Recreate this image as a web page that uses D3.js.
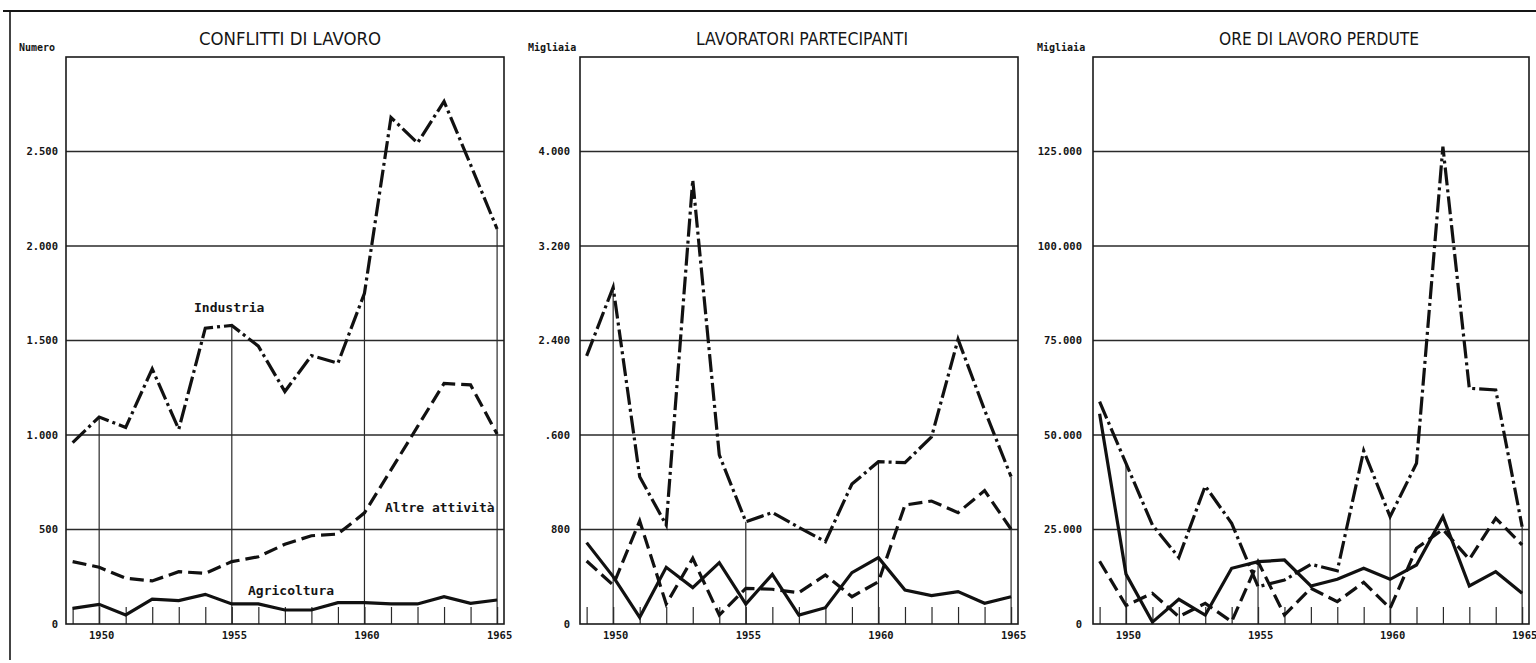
<!DOCTYPE html>
<html>
<head>
<meta charset="utf-8">
<script src="https://cdn.jsdelivr.net/npm/d3@7"></script>
<style>
  html, body { margin: 0; padding: 0; background: #fff; }
  svg { display: block; }
</style>
</head>
<body>
<svg id="chart" width="1536" height="663"></svg>
<script>
// ---------------- DATA ----------------
const years = [1949,1950,1951,1952,1953,1954,1955,1956,1957,1958,1959,1960,1961,1962,1963,1964,1965];
const yearLabels = [1950, 1955, 1960, 1965];

const panelTitles = ["CONFLITTI  DI  LAVORO", "LAVORATORI  PARTECIPANTI", "ORE DI  LAVORO PERDUTE"];
const unitLabels = ["Numero", "Migliaia", "Migliaia"];

// Conflitti di lavoro (numero)
const conflittiIndustria    = [960,1095,1040,1350,1030,1565,1580,1470,1230,1420,1380,1750,2680,2545,2765,2430,2090];
const conflittiAltre        = [330,300,242,228,277,268,330,356,422,467,476,588,815,1044,1273,1265,1005];
const conflittiAgricoltura  = [83,104,48,131,124,157,106,106,74,74,113,113,106,106,145,109,127];

// Lavoratori partecipanti (migliaia)
const lavoratoriIndustria   = [2270,2850,1247,838,3760,1431,866,943,818,697,1185,1374,1366,1583,2410,1812,1247];
const lavoratoriAltre       = [533,330,872,169,556,76,302,294,265,415,231,358,1007,1041,943,1129,802];
const lavoratoriAgricoltura = [689,401,57,480,308,519,169,420,76,138,435,562,288,240,274,175,231];

// Ore di lavoro perdute (migliaia)
const oreIndustria   = [58800,42500,26190,17600,36500,26640,9870,11640,15790,14100,45850,28390,42510,126300,62350,61900,25740];
const oreAltre       = [16600,4900,8120,1940,5470,620,16490,2380,9440,5910,11020,4150,20020,25050,17110,27960,20900];
const oreAgricoltura = [55600,13200,500,6530,2380,14730,16490,16930,10050,11820,14730,11820,15610,28390,10050,13840,8120];

// Y ticks
const conflittiTicks = [0,500,1000,1500,2000,2500];
const conflittiTickLabels = ["0","500","1.000","1.500","2.000","2.500"];
const lavoratoriTicks = [0,800,1600,2400,3200,4000];
const lavoratoriTickLabels = ["0","800",".600","2.400","3.200","4.000"];
const oreTicks = [0,25000,50000,75000,100000,125000];
const oreTickLabels = ["0","25.000","50.000","75.000","100.000","125.000"];

const yMax = [3000, 4800, 150000];

// Series labels (only in first panel)
const seriesNames = ["Industria", "Altre attività", "Agricoltura"];
const seriesDash = ["18,4,3,4", "14,6", null];

// ---------------- LAYOUT ----------------
const svg = d3.select("#chart");
const W = 1536, H = 663;
const plotTop = 57, plotBottom = 624;
const frames = [
  {left: 66, right: 504, labelGap: 8},
  {left: 580, right: 1018, labelGap: 10},
  {left: 1093, right: 1529, labelGap: 11}
];
const ink = "#151515";

// outer border (top + left)
svg.append("line").attr("x1", 3).attr("x2", W).attr("y1", 11).attr("y2", 11)
  .attr("stroke", ink).attr("stroke-width", 2);
svg.append("line").attr("x1", 10).attr("x2", 10).attr("y1", 11).attr("y2", 660)
  .attr("stroke", ink).attr("stroke-width", 1.6);

const panels = [
  {series: [conflittiIndustria, conflittiAltre, conflittiAgricoltura], ticks: conflittiTicks, labels: conflittiTickLabels},
  {series: [lavoratoriIndustria, lavoratoriAltre, lavoratoriAgricoltura], ticks: lavoratoriTicks, labels: lavoratoriTickLabels},
  {series: [oreIndustria, oreAltre, oreAgricoltura], ticks: oreTicks, labels: oreTickLabels}
];

panels.forEach((p, i) => {
  const f = frames[i];
  const x = d3.scaleLinear().domain([1948.75, 1965.26]).range([f.left, f.right]);
  const y = d3.scaleLinear().domain([0, yMax[i]]).range([plotBottom, plotTop]);
  const g = svg.append("g");

  // title
  g.append("text")
    .attr("x", (f.left + f.right) / 2 + (i === 0 ? 5 : i === 1 ? 3 : 8))
    .attr("y", 45)
    .attr("text-anchor", "middle")
    .attr("font-family", "'DejaVu Sans Condensed', 'Liberation Sans Narrow', sans-serif")
    .attr("font-size", 18)
    .attr("textLength", [182, 212, 200][i])
    .attr("lengthAdjust", "spacingAndGlyphs")
    .attr("fill", ink)
    .text(panelTitles[i]);

  // unit label
  g.append("text")
    .attr("x", f.left - [47, 52, 56][i])
    .attr("y", 51)
    .attr("font-family", "'DejaVu Sans Mono', monospace")
    .attr("font-weight", "bold")
    .attr("font-size", 10)
    .attr("fill", ink)
    .text(unitLabels[i]);

  // horizontal gridlines + tick labels via axisLeft
  const yAxis = d3.axisLeft(y)
    .tickValues(p.ticks)
    .tickSize(0)
    .tickPadding(f.labelGap)
    .tickFormat((d, k) => p.labels[k]);
  const ya = g.append("g").attr("transform", `translate(${f.left},0)`).call(yAxis);
  ya.select(".domain").remove();
  ya.selectAll("text")
    .attr("font-family", "'DejaVu Sans Mono', monospace")
    .attr("font-weight", "bold")
    .attr("font-size", 10.5)
    .attr("fill", ink);

  g.selectAll(".hgrid").data(p.ticks.filter(t => t > 0)).join("line")
    .attr("x1", f.left).attr("x2", f.right)
    .attr("y1", d => y(d)).attr("y2", d => y(d))
    .attr("stroke", "#2a2a2a").attr("stroke-width", 1.3);

  // quinquennial vertical lines up to the highest series value
  g.selectAll(".vline").data(yearLabels).join("line")
    .attr("x1", d => x(d)).attr("x2", d => x(d))
    .attr("y1", plotBottom)
    .attr("y2", d => {
      const k = years.indexOf(d);
      return y(d3.max(p.series, s => s[k]));
    })
    .attr("stroke", "#2a2a2a").attr("stroke-width", 1.2);

  // x axis: small year ticks + labels
  const xAxis = d3.axisBottom(x)
    .tickValues(years)
    .tickSize(-17)
    .tickPadding(8)
    .tickFormat(d => yearLabels.includes(d) ? String(d) : "");
  const xa = g.append("g").attr("transform", `translate(0,${plotBottom})`).call(xAxis);
  xa.select(".domain").remove();
  xa.selectAll("line").attr("stroke", "#2a2a2a").attr("stroke-width", 1.2);
  xa.selectAll("text")
    .attr("font-family", "'DejaVu Sans Mono', monospace")
    .attr("font-weight", "bold")
    .attr("font-size", 10.5)
    .attr("dx", 2)
    .attr("fill", ink);

  // frame
  g.append("rect")
    .attr("x", f.left).attr("y", plotTop)
    .attr("width", f.right - f.left).attr("height", plotBottom - plotTop)
    .attr("fill", "none").attr("stroke", "#1a1a1a").attr("stroke-width", 1.6);

  // series lines
  const line = d3.line().x((d, k) => x(years[k])).y(d => y(d));
  p.series.forEach((s, j) => {
    g.append("path")
      .datum(s)
      .attr("d", line)
      .attr("fill", "none")
      .attr("stroke", "#111")
      .attr("stroke-width", 3.2)
      .attr("stroke-linejoin", "miter")
      .attr("stroke-dasharray", seriesDash[j]);
  });
});

// series annotations in the first panel
const annot = [
  {name: seriesNames[0], x: 194, y: 312},
  {name: seriesNames[1], x: 385, y: 512},
  {name: seriesNames[2], x: 248, y: 595}
];
svg.selectAll(".annot").data(annot).join("text")
  .attr("x", d => d.x).attr("y", d => d.y)
  .attr("font-family", "'DejaVu Sans Mono', monospace")
  .attr("font-size", 13)
  .attr("font-weight", "bold")
  .attr("fill", ink)
  .text(d => d.name);
</script>
</body>
</html>
